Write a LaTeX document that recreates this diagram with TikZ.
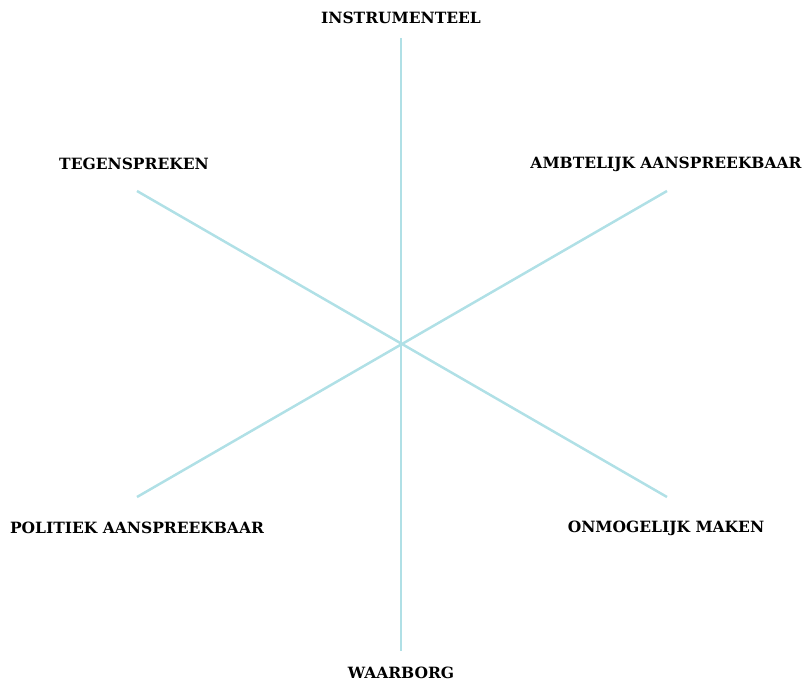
\documentclass[tikz,border=0pt]{standalone}
\usepackage{fontspec}
\usepackage{tikz}
\usetikzlibrary{positioning}
\newfontfamily\tagfont{DejaVu Serif}
\definecolor{spokeblue}{RGB}{176,224,230}
\tikzstyle{spoke}=[draw=spokeblue,line width=2.5pt]
\tikzstyle{tag}=[inner sep=0pt,font=\tagfont\fontsize{15.5}{18}\selectfont\bfseries]
\tikzset{every picture/.style={
    x=1pt,y=-1pt
  }
}
\begin{document}
\begin{tikzpicture}
          \useasboundingbox (0,0) rectangle (805,682);
          \coordinate (c) at (401,345);
          \coordinate (n) at (401,38);
          \coordinate (s) at (401,651);
          \coordinate (nw) at (137,191);
          \coordinate (ne) at (667,191);
          \coordinate (sw) at (137,497);
          \coordinate (se) at (667,497);
          \draw[spoke] (n)--(s);
          \draw[spoke] (nw)--(se);
          \draw[spoke] (sw)--(ne);
          \node[tag] at (401,18) (instr) {INSTRUMENTEEL};
          \node[tag] at (134,164) (tegen) {TEGENSPREKEN};
          \node[tag] at (666,164) (ambt) {AMBTELIJK AANSPREEKBAAR};
          \node[tag] at (137,528) (polit) {POLITIEK AANSPREEKBAAR};
          \node[tag] at (666,528) (onmog) {ONMOGELIJK MAKEN};
          \node[tag,anchor=base] at (401,678) (waarb) {WAARBORG};
        \end{tikzpicture}
\end{document}
